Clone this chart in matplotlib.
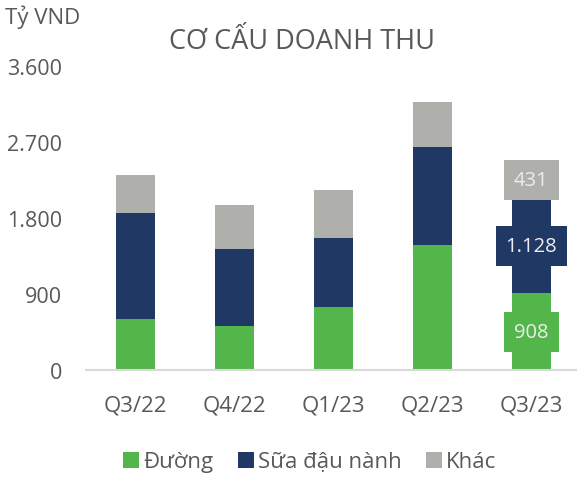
import numpy as np
import matplotlib.pyplot as plt

quarters = ['Q3/22', 'Q4/22', 'Q1/23', 'Q2/23', 'Q3/23']
duong = np.array([604, 521, 746, 1480, 908])
sua_dau_nanh = np.array([1255, 912, 817, 1164, 1128])
khac = np.array([446, 517, 568, 526, 431])

labels = ['Đường', 'Sữa đậu nành', 'Khác']
colors = ['#53B64B', '#203864', '#AFAFAB']
text_color = '#595959'

plt.rcParams['font.family'] = ['Open Sans', 'DejaVu Sans']

W, H = 577, 481
fig = plt.figure(figsize=(W / 100, H / 100), dpi=100)
ax = fig.add_axes([86 / W, (H - 371) / H, (W - 86) / W, (371 - 67) / H])

x = np.arange(len(quarters))
width = 0.4
bottoms = np.zeros(len(quarters))
series = [duong, sua_dau_nanh, khac]
for vals, lab, col in zip(series, labels, colors):
    ax.bar(x, vals, width, bottom=bottoms, color=col, label=lab)
    bottoms = bottoms + vals

# data labels on the last quarter only
last = len(quarters) - 1
base = 0
for vals, col in zip(series, colors):
    v = vals[last]
    txt = f'{v:,}'.replace(',', '.')
    ax.text(x[last], base + v / 2, txt, ha='center', va='center',
            fontsize=14.5, color='#EDEDED',
            bbox=dict(boxstyle='square,pad=0.5', fc=col, ec='none'))
    base += v

ax.set_xlim(-0.5, 4.46)
ax.set_ylim(0, 3600)
ax.set_yticks([0, 900, 1800, 2700, 3600])
ax.set_yticklabels(['0', '900', '1.800', '2.700', '3.600'])
ax.set_xticks(x)
ax.set_xticklabels(quarters)
ax.tick_params(axis='y', length=0, labelsize=15.5, labelcolor=text_color, pad=17)
ax.tick_params(axis='x', length=0, labelsize=16, labelcolor=text_color, pad=18)

for s in ['top', 'right', 'left']:
    ax.spines[s].set_visible(False)
ax.spines['bottom'].set_color('#D9D9D9')
ax.spines['bottom'].set_linewidth(1.5)

fig.text(5 / W, 1 - 17 / H, 'Tỷ VND', fontsize=16, color=text_color,
         va='center', ha='left')
fig.text(302 / W, 1 - 42 / H, 'CƠ CẤU DOANH THU', fontsize=19.5,
         color=text_color, va='center', ha='center')

fig.legend(loc='center', bbox_to_anchor=(310 / W, 1 - 463 / H), ncol=3,
           frameon=False, fontsize=16, handlelength=0.7, handleheight=0.7,
           handletextpad=0.2, columnspacing=1.1, labelcolor=text_color)

fig.savefig('out.png', dpi=100)
